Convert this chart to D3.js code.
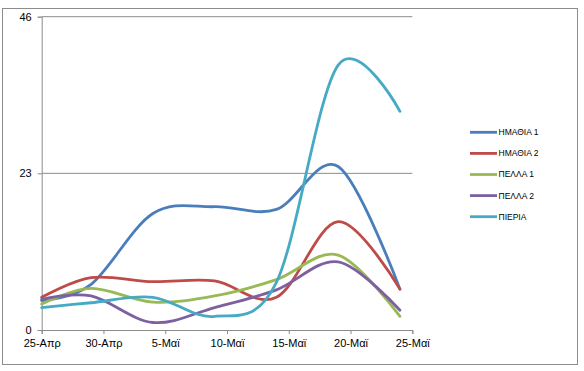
<!DOCTYPE html>
<html>
<head>
<meta charset="utf-8">
<script src="https://cdn.jsdelivr.net/npm/d3@7"></script>
<style>
  body { margin: 0; background: #fff; }
  text { font-family: "Liberation Sans", Arial, sans-serif; }
</style>
</head>
<body>
<div id="chart"></div>
<script>
// Sample dates (day/month) of the measurements
var dates = ["2020-04-25", "2020-04-29", "2020-05-04", "2020-05-09", "2020-05-14", "2020-05-19", "2020-05-24"];

// Series values, one array per area
var imathia1 = [4.3, 6.7, 17.1, 18.1, 17.7, 24.0, 6.0];
var imathia2 = [4.8, 7.7, 7.1, 7.2, 4.8, 15.9, 6.0];
var pella1   = [3.8, 6.1, 4.1, 5.0, 7.4, 11.0, 2.0];
var pella2   = [4.5, 5.0, 1.1, 3.3, 5.9, 10.0, 2.9];
var pieria   = [3.3, 4.0, 4.8, 2.0, 7.0, 38.9, 32.1];

var seriesNames = ["ΗΜΑΘΙΑ 1", "ΗΜΑΘΙΑ 2", "ΠΕΛΛΑ 1", "ΠΕΛΛΑ 2", "ΠΙΕΡΙΑ"];
var seriesColors = ["#4a7ebb", "#be4b48", "#98b954", "#7d60a0", "#46aac5"];

// Axis ticks
var tickDates = ["2020-04-25", "2020-04-30", "2020-05-05", "2020-05-10", "2020-05-15", "2020-05-20", "2020-05-25"];
var tickLabels = ["25-Απρ", "30-Απρ", "5-Μαϊ", "10-Μαϊ", "15-Μαϊ", "20-Μαϊ", "25-Μαϊ"];
var yTicks = [0, 23, 46];

var parse = d3.utcParse("%Y-%m-%d");
var allSeries = [imathia1, imathia2, pella1, pella2, pieria];

var width = 584, height = 371;

var svg = d3.select("#chart")
    .append("svg")
    .attr("width", width)
    .attr("height", height);

// chart area border
svg.append("rect")
    .attr("x", 2.5).attr("y", 8.5)
    .attr("width", 575).attr("height", 356)
    .attr("fill", "#fff")
    .attr("stroke", "#8c8c8c");

var x = d3.scaleUtc()
    .domain([parse(tickDates[0]), parse(tickDates[tickDates.length - 1])])
    .range([41.7, 412.3]);

var y = d3.scaleLinear()
    .domain([0, 46])
    .range([330, 16.7]);

// gridlines
svg.append("g")
    .selectAll("line")
    .data(yTicks.filter(function(d) { return d > 0; }))
    .enter().append("line")
    .attr("x1", x.range()[0]).attr("x2", x.range()[1])
    .attr("y1", function(d) { return y(d); })
    .attr("y2", function(d) { return y(d); })
    .attr("stroke", "#8c8c8c");

// y axis
var yAxis = svg.append("g")
    .attr("transform", "translate(" + x.range()[0] + ",0)")
    .call(d3.axisLeft(y).tickValues(yTicks).tickSize(4).tickPadding(6));

// x axis
var xAxis = svg.append("g")
    .attr("transform", "translate(0," + y(0) + ")")
    .call(d3.axisBottom(x)
        .tickValues(tickDates.map(parse))
        .tickFormat(function(d, i) { return tickLabels[i]; })
        .tickSize(4).tickPadding(5));

[yAxis, xAxis].forEach(function(g) {
    g.select(".domain").attr("stroke", "#8c8c8c");
    g.selectAll(".tick line").attr("stroke", "#8c8c8c");
    g.selectAll("text")
        .attr("fill", "#000")
        .style("font-size", "11px")
        .style("font-family", "'Liberation Sans', Arial, sans-serif");
});

// lines, smoothed like the original
var line = d3.line()
    .x(function(d, i) { return x(parse(dates[i])); })
    .y(function(d) { return y(d); })
    .curve(d3.curveCardinal.tension(0));

svg.append("g")
    .selectAll("path")
    .data(allSeries)
    .enter().append("path")
    .attr("d", line)
    .attr("fill", "none")
    .attr("stroke", function(d, i) { return seriesColors[i]; })
    .attr("stroke-width", 2.8)
    .attr("stroke-linecap", "round");

// legend
var legend = svg.append("g")
    .attr("transform", "translate(470,132.3)");

var item = legend.selectAll("g")
    .data(seriesNames)
    .enter().append("g")
    .attr("transform", function(d, i) { return "translate(0," + (i * 21.1) + ")"; });

item.append("line")
    .attr("x1", 0).attr("x2", 27)
    .attr("stroke", function(d, i) { return seriesColors[i]; })
    .attr("stroke-width", 2.8);

item.append("text")
    .attr("x", 28.5)
    .attr("dy", "0.35em")
    .style("font-size", "8.5px")
    .text(function(d) { return d; });
</script>
</body>
</html>
